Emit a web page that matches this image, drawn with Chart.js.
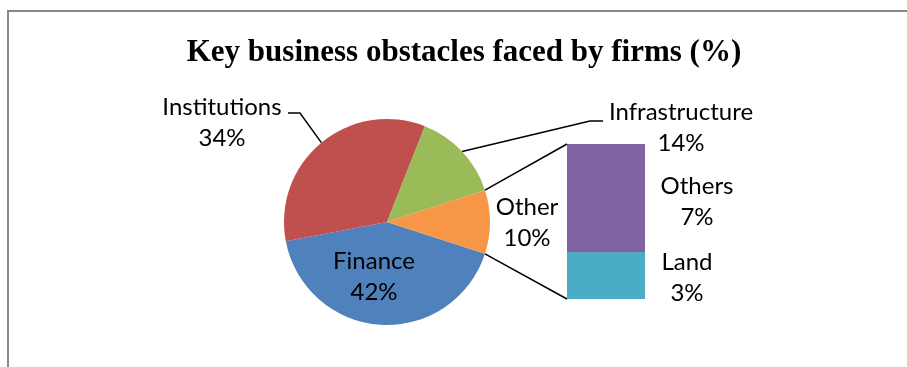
<!DOCTYPE html>
<html>
<head>
<meta charset="utf-8">
<script src="https://cdn.jsdelivr.net/npm/chart.js@4.4.0/dist/chart.umd.min.js"></script>
<style>
  html, body { margin: 0; padding: 0; background: #fff; }
  #wrap { position: relative; width: 907px; height: 367px; overflow: hidden; }
  #wrap canvas { position: absolute; left: 0; top: 0; }
</style>
</head>
<body>
<div id="wrap">
  <canvas id="pieChart" width="907" height="367"></canvas>
  <canvas id="barChart" width="907" height="367"></canvas>
</div>
<script>
// Main pie: share of firms by key obstacle
const pieLabels = ['Finance', 'Institutions', 'Infrastructure', 'Other']
const pieValues = [42, 34, 14, 10]
const pieColors = ['#4F81BD', '#C0504D', '#9BBB59', '#F79646']

// Breakdown of "Other" into the stacked bar
const barLabels = ['Land', 'Others']
const barValues = [3, 7]
const barColors = ['#4BACC6', '#8064A2']

const titleText = 'Key business obstacles faced by firms (%)'

const pieTotal = pieValues.reduce((a, b) => a + b, 0)
const barTotal = barValues.reduce((a, b) => a + b, 0)
const labelFont = '24px Lato'

// "Other" slice sits centred on the right side, facing the bar
const otherIdx = pieLabels.indexOf('Other')
const startRotation = 90 + (pieValues[otherIdx] / pieTotal) * 180

const pieChart = new Chart(document.getElementById('pieChart'), {
  type: 'pie',
  data: {
    labels: pieLabels,
    datasets: [
      {
        data: pieValues,
        backgroundColor: pieColors,
        borderWidth: 0,
      },
    ],
  },
  options: {
    responsive: false,
    animation: false,
    rotation: startRotation,
    layout: { padding: { left: 284, right: 417, top: 119, bottom: 42 } },
    plugins: {
      legend: { display: false },
      tooltip: { enabled: false },
    },
  },
})

function pct(v, total) {
  return Math.round((v / total) * 100) + '%'
}

function twoLines(ctx, lines, x, y) {
  ctx.fillText(lines[0], x, y)
  ctx.fillText(lines[1], x, y + 31)
}

const overlay = {
  id: 'overlay',
  afterDraw(chart) {
    const ctx = chart.ctx
    const arcs = pieChart.getDatasetMeta(0).data
    const topBar = chart.getDatasetMeta(1).data[0]
    const lowBar = chart.getDatasetMeta(0).data[0]
    ctx.save()

    // outer frame
    ctx.strokeStyle = '#888888'
    ctx.lineWidth = 2
    ctx.strokeRect(8, 11, 930, 400)

    // title
    ctx.fillStyle = '#000'
    ctx.font = 'bold 31px "Liberation Serif"'
    ctx.textAlign = 'center'
    ctx.textBaseline = 'alphabetic'
    ctx.fillText(titleText, 464, 61)

    // connectors from the "Other" slice to the bar
    const other = arcs[otherIdx]
    const r = other.outerRadius
    const barLeft = topBar.x - topBar.width / 2
    ctx.strokeStyle = '#000'
    ctx.lineWidth = 1.5
    ctx.beginPath()
    ctx.moveTo(other.x + r * Math.cos(other.startAngle), other.y + r * Math.sin(other.startAngle))
    ctx.lineTo(barLeft, topBar.y)
    ctx.moveTo(other.x + r * Math.cos(other.endAngle), other.y + r * Math.sin(other.endAngle))
    ctx.lineTo(barLeft, lowBar.base)
    ctx.stroke()

    // leader lines for outside labels
    const midPoint = (a) => {
      const m = (a.startAngle + a.endAngle) / 2
      return [a.x + a.outerRadius * Math.cos(m), a.y + a.outerRadius * Math.sin(m)]
    }
    const inst = midPoint(arcs[1])
    const infra = midPoint(arcs[2])
    ctx.beginPath()
    ctx.moveTo(288, 113)
    ctx.lineTo(300, 113)
    ctx.lineTo(inst[0], inst[1])
    ctx.moveTo(603, 121)
    ctx.lineTo(590, 121)
    ctx.lineTo(infra[0], infra[1])
    ctx.stroke()

    // data labels
    ctx.font = labelFont
    ctx.textBaseline = 'middle'
    twoLines(ctx, [pieLabels[0], pct(pieValues[0], pieTotal)], 374, 261)
    twoLines(ctx, [pieLabels[1], pct(pieValues[1], pieTotal)], 222, 107)
    twoLines(ctx, [pieLabels[2], pct(pieValues[2], pieTotal)], 681, 112)
    twoLines(ctx, [pieLabels[3], pct(pieValues[3], pieTotal)], 527, 207)
    twoLines(ctx, [barLabels[1], pct(barValues[1], pieTotal)], 697, 186)
    twoLines(ctx, [barLabels[0], pct(barValues[0], pieTotal)], 687, 262)
    ctx.restore()
  },
}

const barChart = new Chart(document.getElementById('barChart'), {
  type: 'bar',
  data: {
    labels: [''],
    datasets: barLabels.map((label, i) => ({
      label: label,
      data: [barValues[i]],
      backgroundColor: barColors[i],
      borderWidth: 0,
      barPercentage: 1,
      categoryPercentage: 1,
    })),
  },
  options: {
    responsive: false,
    animation: false,
    layout: { padding: { left: 567, right: 262, top: 144, bottom: 68 } },
    scales: {
      x: { stacked: true, display: false },
      y: { stacked: true, display: false, min: 0, max: barTotal },
    },
    plugins: {
      legend: { display: false },
      tooltip: { enabled: false },
    },
  },
  plugins: [overlay],
})
</script>
</body>
</html>
